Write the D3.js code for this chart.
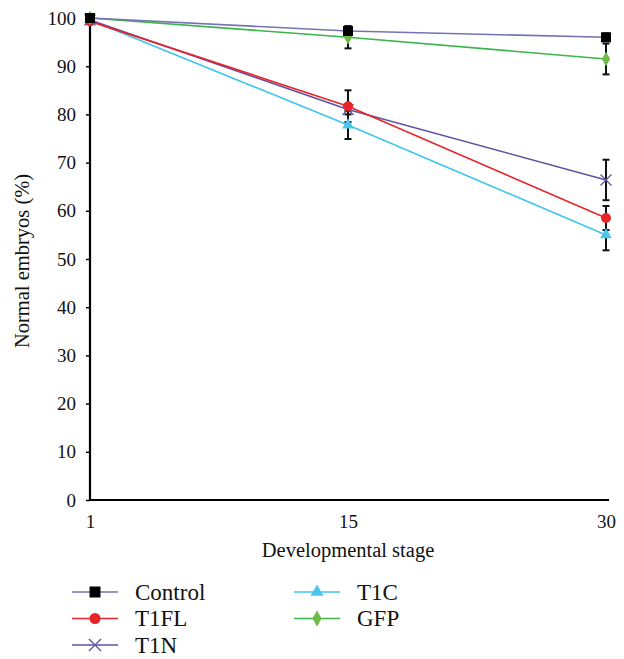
<!DOCTYPE html>
<html>
<head>
<meta charset="utf-8">
<script src="https://cdn.jsdelivr.net/npm/d3@7"></script>
<style>
  body { margin: 0; background: #fff; }
</style>
</head>
<body>
<svg id="chart" width="624" height="659"></svg>
<script>
// categories on the x axis
var stages = ["1", "15", "30"];
var yTicks = [0, 10, 20, 30, 40, 50, 60, 70, 80, 90, 100];

// series values (% normal embryos) and error bars
var controlVals = [100, 97.3, 96.0];
var controlErr  = [0, 1.0, 0.8];
var t1flVals = [99.3, 81.7, 58.5];
var t1flErr  = [0, 3.3, 2.5];
var t1nVals  = [99.6, 81.0, 66.4];
var t1nErr   = [0, 1.0, 4.2];
var t1cVals  = [99.6, 77.8, 55.0];
var t1cErr   = [0, 2.9, 3.2];
var gfpVals  = [100, 96.0, 91.5];
var gfpErr   = [0, 2.3, 3.2];

var FONT = "'Liberation Serif', 'DejaVu Serif', 'Times New Roman', serif";

var series = [
  {name: "Control", values: controlVals, err: controlErr, line: "#7474b4", fill: "#000000", shape: "square"},
  {name: "T1FL", values: t1flVals, err: t1flErr, line: "#e8242b", fill: "#e8242b", shape: "circle"},
  {name: "T1N", values: t1nVals, err: t1nErr, line: "#5f52a3", fill: "#5f52a3", shape: "cross"},
  {name: "T1C", values: t1cVals, err: t1cErr, line: "#3fc4ee", fill: "#4cc5ea", shape: "triangle"},
  {name: "GFP", values: gfpVals, err: gfpErr, line: "#3bb44a", fill: "#6cbb46", shape: "diamond"}
];
// drawing order (GFP/Control on top like the original)
var drawOrder = ["T1C", "T1N", "T1FL", "GFP", "Control"];

var svg = d3.select("#chart");

var x = d3.scalePoint().domain(stages).range([90, 606]);
var y = d3.scaleLinear().domain([0, 100]).range([500, 18]);

// y axis
var yAxis = d3.axisLeft(y).tickValues(yTicks).tickSize(4).tickPadding(10);
var gy = svg.append("g")
    .attr("transform", "translate(90,0)")
    .call(yAxis);
gy.attr("font-family", null);
gy.select(".domain").attr("stroke", "#000").attr("stroke-width", 2.2).attr("d", "M0,501V18");
gy.selectAll(".tick line").attr("stroke", "#000").attr("stroke-width", 1.5);
gy.selectAll(".tick text").style("font-size", "19px").style("font-family", FONT).attr("fill", "#111");

// x axis
var xAxis = d3.axisBottom(x).tickSize(0).tickPadding(15);
var gx = svg.append("g")
    .attr("transform", "translate(0,500)")
    .call(xAxis);
gx.attr("font-family", null);
gx.select(".domain").attr("stroke", "#000").attr("stroke-width", 2.2).attr("d", "M89,0H609");
gx.selectAll(".tick text").style("font-size", "19px").style("font-family", FONT).attr("fill", "#111");

// axis titles
svg.append("text")
    .attr("transform", "translate(29,261) rotate(-90)")
    .style("text-anchor", "middle")
    .style("font-size", "20.5px")
    .style("font-family", FONT)
    .attr("fill", "#111")
    .text("Normal embryos (%)");

svg.append("text")
    .attr("x", 348)
    .attr("y", 557)
    .style("text-anchor", "middle")
    .style("font-size", "20.5px")
    .style("font-family", FONT)
    .attr("fill", "#111")
    .text("Developmental stage");

var line = d3.line()
    .x(function(d, i) { return x(stages[i]); })
    .y(function(d) { return y(d); });

function drawMarker(g, shape, fill, size) {
    if (shape === "cross") {
        var s = size * 0.55;
        g.append("path")
            .attr("d", "M" + (-s) + "," + (-s) + "L" + s + "," + s + "M" + (-s) + "," + s + "L" + s + "," + (-s))
            .attr("stroke", fill).attr("stroke-width", 1.3).attr("fill", "none");
        return;
    }
    var sym = {square: d3.symbolSquare, circle: d3.symbolCircle, triangle: d3.symbolTriangle, diamond: d3.symbolDiamond}[shape];
    var area = {square: size * size, circle: Math.PI * size * size / 4, triangle: size * size * 0.6, diamond: size * size * 0.6}[shape];
    g.append("path")
        .attr("d", d3.symbol().type(sym).size(area)())
        .attr("fill", fill);
}

// error bars first, lines and markers over them
drawOrder.forEach(function(name) {
    var s = series.find(function(d) { return d.name === name; });
    s.values.forEach(function(v, i) {
        if (!s.err[i]) return;
        var cx = x(stages[i]);
        var eb = svg.append("g").attr("stroke", "#111").attr("stroke-width", 2);
        eb.append("line").attr("x1", cx).attr("x2", cx).attr("y1", y(v + s.err[i])).attr("y2", y(v - s.err[i]));
        eb.append("line").attr("x1", cx - 3.5).attr("x2", cx + 3.5).attr("y1", y(v + s.err[i])).attr("y2", y(v + s.err[i]));
        eb.append("line").attr("x1", cx - 3.5).attr("x2", cx + 3.5).attr("y1", y(v - s.err[i])).attr("y2", y(v - s.err[i]));
    });
});

drawOrder.forEach(function(name) {
    var s = series.find(function(d) { return d.name === name; });
    svg.append("path")
        .datum(s.values)
        .attr("d", line)
        .attr("fill", "none")
        .attr("stroke", s.line)
        .attr("stroke-width", 1.6);
    s.values.forEach(function(v, i) {
        var g = svg.append("g").attr("transform", "translate(" + x(stages[i]) + "," + y(v) + ")");
        drawMarker(g, s.shape, s.fill, 10);
    });
});

// legend
var legendPos = [
  {name: "Control", lx: 95, ly: 592},
  {name: "T1FL", lx: 95, ly: 618.5},
  {name: "T1N", lx: 95, ly: 645},
  {name: "T1C", lx: 317, ly: 592},
  {name: "GFP", lx: 317, ly: 618.5}
];
legendPos.forEach(function(p) {
    var s = series.find(function(d) { return d.name === p.name; });
    var lg = svg.append("g").attr("class", "legend").attr("transform", "translate(" + p.lx + "," + p.ly + ")");
    lg.append("line").attr("x1", -23).attr("x2", 23).attr("y1", 0).attr("y2", 0)
        .attr("stroke", s.line).attr("stroke-width", 1.6);
    drawMarker(lg.append("g"), s.shape, s.fill, 11);
    lg.append("text")
        .attr("x", 40)
        .attr("y", 0)
        .attr("dy", ".33em")
        .style("font-size", "23px")
        .style("font-family", FONT)
        .attr("fill", "#111")
        .text(s.name);
});
</script>
</body>
</html>
